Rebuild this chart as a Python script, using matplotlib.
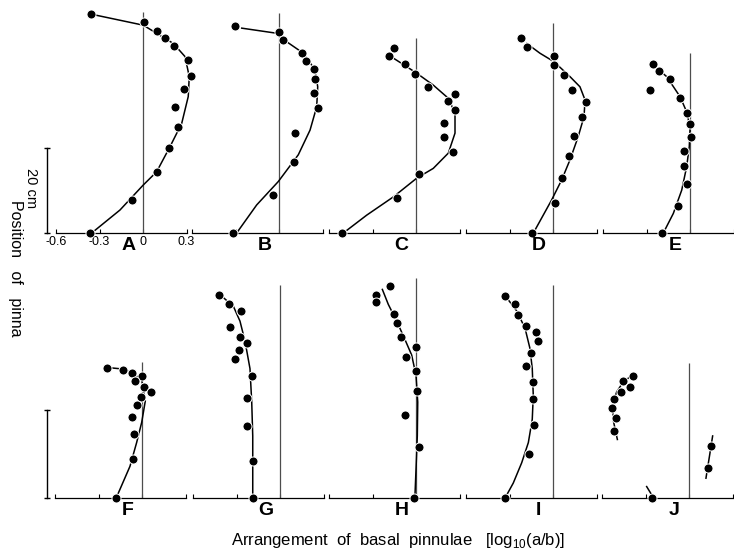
import numpy as np
import matplotlib.pyplot as plt

plt.rcParams['font.family'] = ['Liberation Sans', 'DejaVu Sans']

# panel letters
top_names = ['A', 'B', 'C', 'D', 'E']
bottom_names = ['F', 'G', 'H', 'I', 'J']

# height (cm) of the zero line drawn in each panel
top_zero_len = [52.0, 51.8, 45.9, 49.4, 42.4]
bottom_zero_len = [31.0, 48.5, 50.0, 48.3, 30.6]

# measured pinnae: log10(a/b) and position of pinna (cm)
A_dot_x = [-0.36, 0.01, 0.094, 0.152, 0.214, 0.31, 0.33, 0.28, 0.22, 0.24, 0.18, 0.097, -0.078, -0.366]
A_dot_y = [51.5, 49.6, 47.6, 46.0, 44.0, 40.6, 36.9, 33.9, 29.6, 24.9, 20.1, 14.3, 7.8, 0]
A_fit_x = [-0.331, 0.002, 0.209, 0.29, 0.319, 0.312, 0.267, 0.186, 0.094, 0.002, -0.159, -0.343]
A_fit_y = [51.3, 48.9, 44.6, 41.5, 36.8, 32.1, 25.8, 20.3, 14.4, 11.3, 5.4, 0.3]

B_dot_x = [-0.303, -0.002, 0.03, 0.159, 0.186, 0.244, 0.25, 0.239, 0.269, 0.108, 0.106, -0.039, -0.315]
B_dot_y = [48.7, 47.4, 45.3, 42.3, 40.5, 38.7, 36.2, 33.0, 29.3, 23.6, 16.6, 8.9, 0]
B_fit_x = [-0.257, -0.016, 0.053, 0.168, 0.248, 0.267, 0.26, 0.214, 0.133, -0.005, -0.154, -0.292]
B_fit_y = [48.2, 47.0, 45.0, 42.3, 38.4, 34.4, 29.7, 24.2, 18.4, 12.1, 6.6, 0]

C_dot_x = [-0.152, -0.184, -0.076, -0.005, 0.083, 0.271, 0.219, 0.271, 0.193, 0.193, 0.255, 0.018, -0.131, -0.512]
C_dot_y = [43.5, 41.6, 39.8, 37.3, 34.4, 32.6, 31.1, 28.9, 25.9, 22.7, 19.1, 13.9, 8.3, 0]
C_fit_x = [-0.191, -0.099, 0.005, 0.119, 0.223, 0.269, 0.269, 0.223, 0.119, 0.005, -0.156, -0.34, -0.501]
C_fit_y = [41.9, 39.9, 37.6, 34.8, 31.7, 28.2, 23.5, 18.8, 15.2, 12.9, 8.5, 4.2, 0]

D_dot_x = [-0.223, -0.177, 0.007, 0.007, 0.076, 0.133, 0.228, 0.202, 0.143, 0.113, 0.06, 0.011, -0.143]
D_dot_y = [46.0, 43.7, 41.7, 39.5, 37.2, 33.6, 30.8, 27.2, 22.9, 18.2, 12.9, 7.0, 0]
D_fit_x = [-0.181, -0.09, 0.007, 0.117, 0.186, 0.221, 0.214, 0.174, 0.117, 0.06, -0.009, -0.124]
D_fit_y = [44.6, 42.3, 40.3, 36.8, 34.4, 31.3, 27.4, 22.7, 17.2, 12.5, 7.8, 0.7]

E_dot_x = [-0.255, -0.214, -0.14, -0.278, -0.071, -0.019, 0.0, 0.005, -0.043, -0.039, -0.023, -0.085, -0.195]
E_dot_y = [39.7, 38.1, 36.2, 33.6, 31.7, 28.3, 25.6, 22.5, 19.3, 15.8, 11.6, 6.4, 0]
E_fit_x = [-0.253, -0.161, -0.069, -0.019, 0.0, -0.005, -0.023, -0.057, -0.115, -0.184]
E_fit_y = [39.5, 36.8, 32.1, 28.2, 24.3, 20.3, 15.6, 10.1, 4.6, 0]

F_dot_x = [-0.239, -0.133, -0.071, -0.002, -0.048, 0.014, 0.062, -0.009, -0.037, -0.071, -0.055, -0.06, -0.177]
F_dot_y = [29.6, 29.2, 28.4, 27.7, 26.5, 25.2, 24.2, 22.9, 21.2, 18.4, 14.5, 8.9, 0]
F_fit_x = [-0.221, -0.129, -0.06, -0.002, 0.023, -0.002, -0.037, -0.083, -0.174]
F_fit_y = [29.6, 29.3, 28.3, 26.8, 22.1, 17.2, 12.6, 7.2, 0.3]

G_dot_x = [-0.421, -0.352, -0.271, -0.345, -0.276, -0.228, -0.285, -0.308, -0.193, -0.228, -0.226, -0.184, -0.186]
G_dot_y = [46.2, 44.2, 42.5, 38.9, 36.6, 35.3, 33.7, 31.6, 27.7, 22.8, 16.3, 8.5, 0]
G_fit_x = [-0.414, -0.322, -0.276, -0.241, -0.207, -0.195, -0.188, -0.188, -0.188]
G_fit_y = [46.2, 43.6, 40.2, 35.6, 29.4, 21.8, 14.1, 6.4, 0.3]

H_dot_x = [-0.179, -0.278, -0.278, -0.15, -0.129, -0.103, 0.002, -0.069, 0.002, 0.007, -0.078, 0.021, -0.014]
H_dot_y = [48.1, 46.2, 44.5, 41.8, 39.7, 36.6, 34.3, 32.0, 28.9, 24.3, 18.9, 11.7, 0]
H_fit_x = [-0.232, -0.191, -0.133, -0.076, -0.03, 0.0, 0.012, 0.009, 0.0, -0.007]
H_fit_y = [47.4, 44.0, 40.2, 36.0, 32.5, 27.9, 21.8, 14.1, 6.4, 0.7]

I_dot_x = [-0.333, -0.262, -0.244, -0.188, -0.119, -0.101, -0.149, -0.186, -0.136, -0.14, -0.131, -0.168, -0.33]
I_dot_y = [45.8, 44.0, 41.7, 39.1, 37.7, 35.7, 32.9, 30.1, 26.4, 22.5, 16.7, 9.9, 0]
I_fit_x = [-0.319, -0.25, -0.193, -0.159, -0.143, -0.136, -0.143, -0.17, -0.216, -0.274, -0.319]
I_fit_y = [45.5, 42.5, 38.6, 34.0, 29.4, 23.3, 17.9, 12.6, 8.0, 3.4, 0.7]

J_dot_x = [-0.386, -0.453, -0.405, -0.469, -0.515, -0.533, -0.506, -0.515, 0.154, 0.129, -0.253]
J_dot_y = [27.8, 26.7, 25.2, 24.0, 22.5, 20.5, 18.2, 15.3, 11.8, 6.8, 0]
# three separate pieces, split by nan
J_fit_x = [-0.395, -0.453, -0.499, -0.526, -0.522, -0.494, np.nan, 0.163, 0.145, 0.117, np.nan, -0.292, -0.257]
J_fit_y = [27.8, 26.4, 24.1, 21.4, 17.6, 13.3, np.nan, 14.1, 10.3, 4.5, np.nan, 2.6, 0.7]

top_dots = [(A_dot_x, A_dot_y), (B_dot_x, B_dot_y), (C_dot_x, C_dot_y), (D_dot_x, D_dot_y), (E_dot_x, E_dot_y)]
top_fits = [(A_fit_x, A_fit_y), (B_fit_x, B_fit_y), (C_fit_x, C_fit_y), (D_fit_x, D_fit_y), (E_fit_x, E_fit_y)]
bottom_dots = [(F_dot_x, F_dot_y), (G_dot_x, G_dot_y), (H_dot_x, H_dot_y), (I_dot_x, I_dot_y), (J_dot_x, J_dot_y)]
bottom_fits = [(F_fit_x, F_fit_y), (G_fit_x, G_fit_y), (H_fit_x, H_fit_y), (I_fit_x, I_fit_y), (J_fit_x, J_fit_y)]

W, H = 734, 551
fig = plt.figure(figsize=(W / 100, H / 100), dpi=100)

px_unit = 145  # pixels per log unit


def panel(zero_px, base_px, px_cm, name, dots, fit, zero_len, labels=False):
    ax = fig.add_axes([(zero_px - 0.8 * px_unit) / W, 1 - base_px / H,
                       1.2 * px_unit / W, 56 * px_cm / H])
    ax.set_xlim(-0.8, 0.4)
    ax.set_ylim(0, 56)
    ax.patch.set_alpha(0)
    for s in ['top', 'right', 'left']:
        ax.spines[s].set_visible(False)
    ax.spines['bottom'].set_bounds(-0.6, 0.3)
    ax.spines['bottom'].set_linewidth(0.9)
    ax.set_xticks([-0.6, -0.3, 0, 0.3])
    ax.tick_params(axis='x', direction='in', length=3, width=0.8, labelsize=9, pad=2)
    if labels:
        ax.set_xticklabels(['-0.6', '-0.3', '0', '0.3'])
    else:
        ax.set_xticklabels([])
    ax.set_yticks([])
    ax.vlines(0, 0, zero_len, color='0.3', lw=0.9)
    ax.plot(fit[0], fit[1], color='k', lw=1.1, clip_on=False,
            solid_joinstyle='round')
    ax.plot(dots[0], dots[1], 'o', color='k', ms=6.5, mec='white', mew=0.7,
            clip_on=False, zorder=3)
    ax.text(-0.1, -2.9, name, ha='center', va='center', fontsize=14,
            fontweight='bold')
    return ax


top_zero = [143, 279, 416, 553, 690]
bottom_zero = [142, 280, 416, 553, 689]

for i in range(5):
    ax = panel(top_zero[i], 233, 4.25, top_names[i], top_dots[i], top_fits[i],
               top_zero_len[i], labels=(i == 0))
    if i == 0:
        ax.plot([-0.662, -0.662], [0, 20], color='k', lw=1.0, marker='_', ms=5,
                clip_on=False)
        ax.text(-0.77, 10.5, '20 cm', rotation=-90, ha='center', va='center',
                fontsize=10.5)

for i in range(5):
    ax = panel(bottom_zero[i], 498, 4.4, bottom_names[i], bottom_dots[i],
               bottom_fits[i], bottom_zero_len[i])
    if i == 0:
        ax.plot([-0.655, -0.655], [0, 20], color='k', lw=1.0, marker='_', ms=5,
                clip_on=False)

fig.text(15 / W, 1 - 268 / H, 'Position   of   pinna', rotation=-90,
         ha='center', va='center', fontsize=11.5)
fig.text(398 / W, 1 - 541 / H,
         r'Arrangement  of  basal  pinnulae   [log$_{\mathregular{10}}$(a/b)]',
         ha='center', va='center', fontsize=12)

plt.savefig('out.png', dpi=100)
